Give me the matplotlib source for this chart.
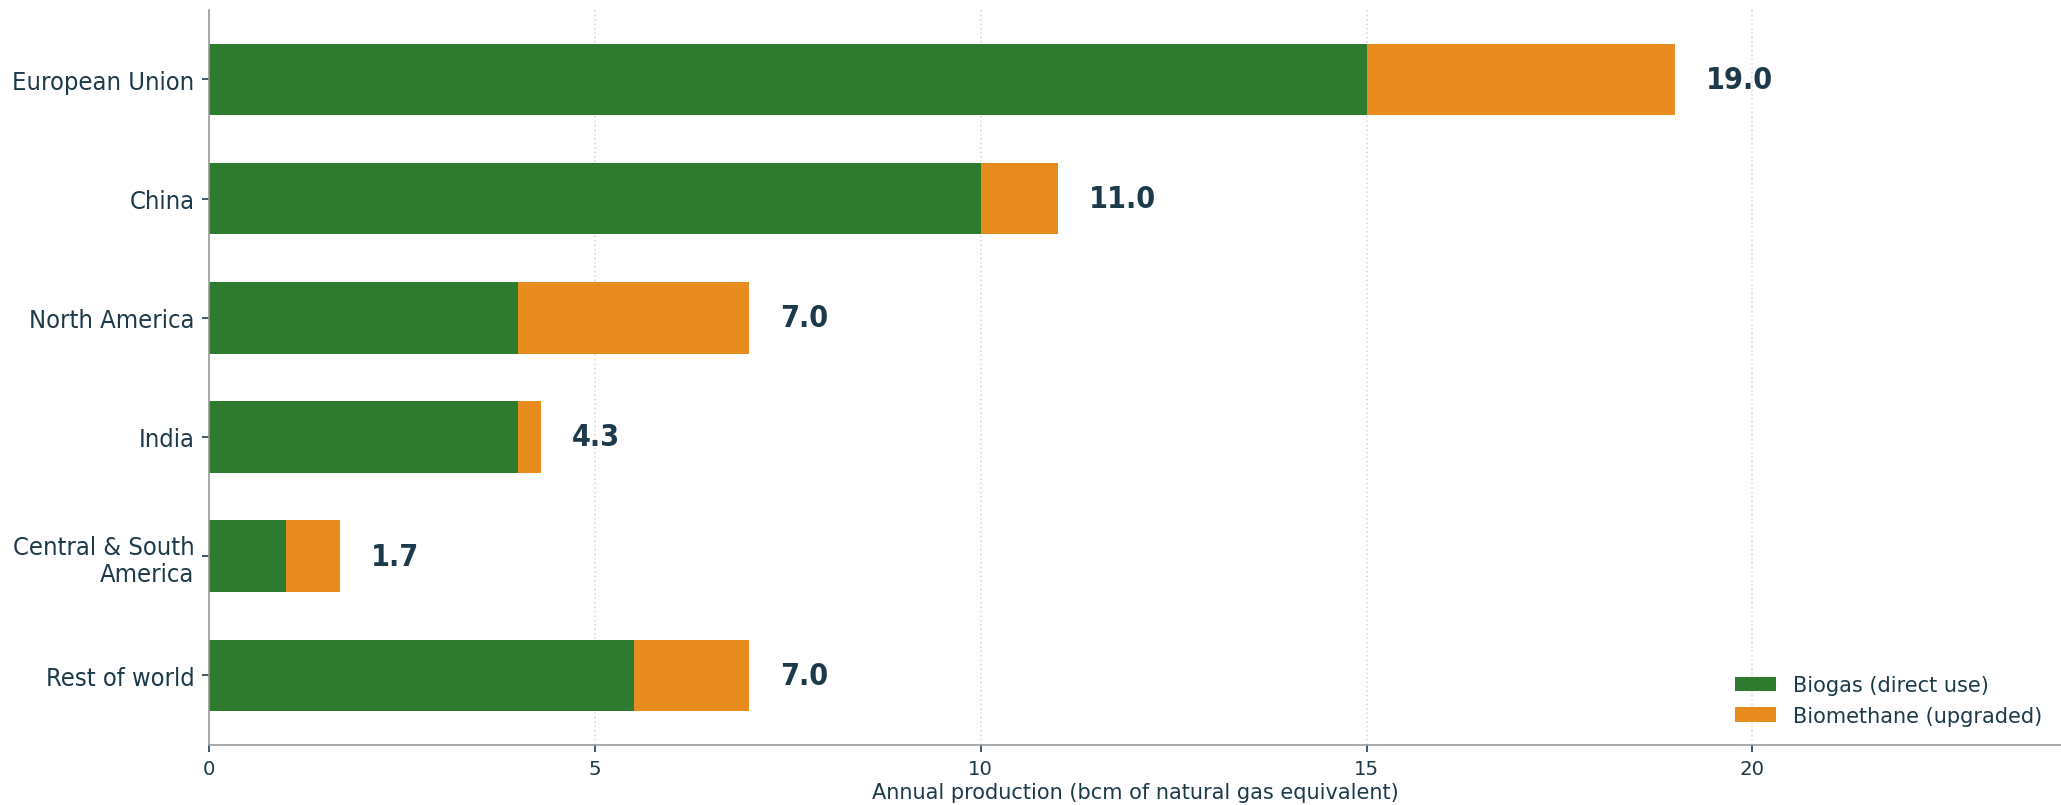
import matplotlib
matplotlib.use('Agg')
import matplotlib.pyplot as plt
import numpy as np

# Biogas / biomethane production by region
regions = ['European Union', 'China', 'North America', 'India',
           'Central & South\nAmerica', 'Rest of world']
biogas = [15.0, 10.0, 4.0, 4.0, 1.0, 5.5]
biomethane = [4.0, 1.0, 3.0, 0.3, 0.7, 1.5]

green = '#2e7a2e'
orange = '#e88c20'
navy = '#1d3a4b'

fig = plt.figure(figsize=(13.74, 5.373), dpi=150)
ax = fig.add_axes([0.1015, 0.075, 0.8985, 0.911])

y = np.arange(len(regions))
biogas = np.array(biogas)
biomethane = np.array(biomethane)
totals = biogas + biomethane

ax.barh(y, biogas, height=0.6, color=green, label='Biogas (direct use)', zorder=2)
ax.barh(y, biomethane, left=biogas, height=0.6, color=orange,
        label='Biomethane (upgraded)', zorder=2)

for yi, t in zip(y, totals):
    ax.text(t + 0.4, yi, f'{t:.1f}', va='center', ha='left', fontsize=14.5,
            fontweight='bold', color=navy, family='DejaVu Sans',
            fontstretch='condensed')

ax.set_yticks(y)
ax.set_yticklabels(regions, fontsize=12.2, color=navy, family='DejaVu Sans',
                   fontstretch='condensed')
ax.invert_yaxis()
ax.set_xlim(0, 24)
ax.set_xticks([0, 5, 10, 15, 20])
ax.tick_params(axis='x', labelsize=9.5, colors=navy)
ax.tick_params(axis='y', colors=navy)
ax.set_xlabel('Annual production (bcm of natural gas equivalent)', fontsize=10,
              color=navy, labelpad=2)

ax.grid(axis='x', linestyle=':', color='#dadada', linewidth=0.8, zorder=0)
ax.set_axisbelow(True)
for s in ['top', 'right']:
    ax.spines[s].set_visible(False)
for s in ['left', 'bottom']:
    ax.spines[s].set_color('#999999')

ax.legend(loc='lower right', frameon=False, fontsize=10, labelcolor=navy)

plt.savefig('out.png', dpi=150)
